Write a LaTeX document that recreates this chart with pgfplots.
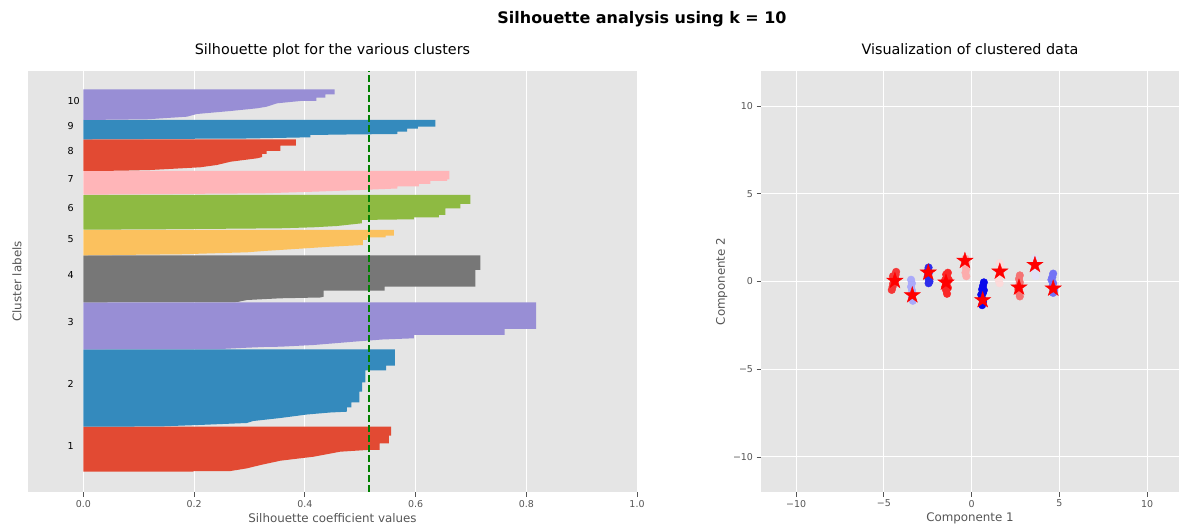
\documentclass[border=0pt]{standalone}
\usepackage{fontspec}
\setmainfont{DejaVu Sans}
\usepackage{pgfplots}
\pgfplotsset{compat=1.18}
\definecolor{ggred}{HTML}{E24A33}
\definecolor{ggblue}{HTML}{348ABD}
\definecolor{ggpurple}{HTML}{988ED5}
\definecolor{gggrey}{HTML}{777777}
\definecolor{ggyellow}{HTML}{FBC15E}
\definecolor{gggreen}{HTML}{8EBA42}
\definecolor{ggpink}{HTML}{FFB5B8}
\definecolor{axbg}{HTML}{E5E5E5}
\definecolor{tickgrey}{HTML}{555555}
\definecolor{mplgreen}{HTML}{008000}
\definecolor{cA}{RGB}{245,55,55}
\definecolor{cB}{RGB}{170,170,250}
\definecolor{cC}{RGB}{45,45,235}
\definecolor{cD}{RGB}{250,40,40}
\definecolor{cE}{RGB}{252,172,172}
\definecolor{cF}{RGB}{10,10,235}
\definecolor{cG}{RGB}{252,218,218}
\definecolor{cH}{RGB}{245,115,115}
\definecolor{cI}{RGB}{225,225,246}
\definecolor{cJ}{RGB}{115,115,245}
\pgfdeclareplotmark{fstar}{%
 \pgfpathmoveto{\pgfpointpolar{90}{\pgfplotmarksize}}%
 \pgfpathlineto{\pgfpointpolar{126}{0.382\pgfplotmarksize}}%
 \pgfpathlineto{\pgfpointpolar{162}{\pgfplotmarksize}}%
 \pgfpathlineto{\pgfpointpolar{198}{0.382\pgfplotmarksize}}%
 \pgfpathlineto{\pgfpointpolar{234}{\pgfplotmarksize}}%
 \pgfpathlineto{\pgfpointpolar{270}{0.382\pgfplotmarksize}}%
 \pgfpathlineto{\pgfpointpolar{306}{\pgfplotmarksize}}%
 \pgfpathlineto{\pgfpointpolar{342}{0.382\pgfplotmarksize}}%
 \pgfpathlineto{\pgfpointpolar{18}{\pgfplotmarksize}}%
 \pgfpathlineto{\pgfpointpolar{54}{0.382\pgfplotmarksize}}%
 \pgfpathclose
 \pgfusepathqfillstroke
}
\pgfplotsset{
  ggstyle/.style={
    scale only axis,
    axis background/.style={fill=axbg},
    axis line style={draw=none},
    tick style={color=tickgrey, line width=0.8bp},
    major tick length=4.5bp,
    tick align=outside,
    xtick pos=lower, ytick pos=left,
    grid=major,
    major grid style={white, line width=1bp},
    ticklabel style={font=\fontsize{9.5}{10}\selectfont, color=tickgrey},
    label style={font=\fontsize{11.9}{13}\selectfont, color=tickgrey},
    title style={font=\fontsize{14.4}{16}\selectfont, at={(axis description cs:0.5,1.024)}, anchor=base},
  },
  pts/.style={only marks, mark=*, mark size=3.8bp, color=#1},
}
\begin{document}
\begin{tikzpicture}
\useasboundingbox (0bp,0bp) rectangle (1179bp,527bp);
\node[font=\bfseries\fontsize{16}{18}\selectfont, anchor=base] at (642bp,503bp) {Silhouette analysis using k = 10};
% ---------------- left: silhouette plot
\begin{axis}[ggstyle,
  at={(28bp,35bp)}, anchor=south west,
  width=609bp, height=421bp,
  xmin=-0.1, xmax=1.0, ymin=0, ymax=421,
  xtick={0,0.2,0.4,0.6,0.8,1.0},
  xticklabels={0.0,0.2,0.4,0.6,0.8,1.0},
  ytick=\empty,
  title={Silhouette plot for the various clusters},
  xlabel={Silhouette coefficient values},
  ylabel={Cluster labels},
  xlabel style={at={(axis description cs:0.5,-0.062)}, anchor=center},
  ylabel style={at={(axis description cs:-0.018,0.5)}, anchor=center},
]
% cluster 1
\addplot[fill=ggred, draw=none] coordinates {(0,20.3) (0.196,20.3) (0.2,20.8) (0.266,21) (0.296,23.7) (0.32,27) (0.356,31.3) (0.416,35.3) (0.464,40.3) (0.512,42) (0.535,42) (0.535,48.7) (0.552,48.7) (0.552,56.3) (0.556,56.3) (0.556,65.3) (0,65.3)};
% cluster 2
\addplot[fill=ggblue, draw=none] coordinates {(0,65.3) (0.139,65.6) (0.208,67) (0.295,69) (0.307,71) (0.356,74) (0.404,77.5) (0.446,79.5) (0.476,80.3) (0.476,84.7) (0.484,84.7) (0.484,89.7) (0.4986,89.7) (0.4986,100.3) (0.5035,100.3) (0.5035,109.7) (0.5095,109.7) (0.5095,121.7) (0.547,121.7) (0.547,126.3) (0.5625,126.3) (0.5625,142.7) (0,142.7)};
% cluster 3
\addplot[fill=ggpurple, draw=none] coordinates {(0,142.7) (0.248,143) (0.296,144.3) (0.326,145) (0.356,145.3) (0.416,147) (0.488,150.3) (0.54,152.5) (0.597,153.7) (0.597,157) (0.761,157) (0.761,163) (0.818,163) (0.818,189.7) (0,189.7)};
% cluster 4
\addplot[fill=gggrey, draw=none] coordinates {(0,189.7) (0.278,190) (0.296,192) (0.356,193.7) (0.428,194.5) (0.434,195.3) (0.434,201.3) (0.544,201.3) (0.544,205.3) (0.708,205.3) (0.708,222) (0.717,222) (0.717,236.7) (0,236.7)};
% cluster 5
\addplot[fill=ggyellow, draw=none] coordinates {(0,236.7) (0.139,237.5) (0.175,237.7) (0.235,238.7) (0.296,239.7) (0.326,241) (0.374,242.7) (0.446,245.3) (0.505,247) (0.505,252) (0.5125,252) (0.5125,254.7) (0.546,254.7) (0.546,256.3) (0.561,256.3) (0.561,262) (0,262)};
% cluster 6
\addplot[fill=gggreen, draw=none] coordinates {(0,262.3) (0.139,262.7) (0.356,263.7) (0.416,264.7) (0.458,266) (0.503,268.7) (0.503,272) (0.537,272.3) (0.597,272.7) (0.597,274.7) (0.642,274.7) (0.642,277) (0.654,277) (0.654,283.7) (0.681,283.7) (0.681,288) (0.699,288) (0.699,297) (0,297)};
% cluster 7
\addplot[fill=ggpink, draw=none] coordinates {(0,297.3) (0.326,298.7) (0.416,300.3) (0.5,302) (0.567,303.5) (0.567,305.5) (0.606,305.5) (0.606,308) (0.627,308) (0.627,311) (0.657,311) (0.657,312.5) (0.661,312.5) (0.661,321) (0,321)};
% cluster 8
\addplot[fill=ggred, draw=none] coordinates {(0,321) (0.067,321.3) (0.121,322) (0.211,324.7) (0.241,327) (0.266,330.3) (0.314,333.7) (0.323,335) (0.323,338) (0.331,338) (0.331,341) (0.356,341) (0.356,346.3) (0.384,346.3) (0.384,352.7) (0,352.7)};
% cluster 9
\addplot[fill=ggblue, draw=none] coordinates {(0,352.7) (0.296,353.5) (0.41,354.7) (0.41,357) (0.476,357.5) (0.567,358) (0.567,360.3) (0.585,360.3) (0.585,363.3) (0.604,363.3) (0.604,365.3) (0.636,365.3) (0.636,372) (0,372)};
% cluster 10
\addplot[fill=ggpurple, draw=none] coordinates {(0,372) (0.115,372.7) (0.187,375.3) (0.205,378) (0.266,381) (0.314,383.7) (0.331,385.3) (0.35,388.7) (0.392,391) (0.421,391) (0.421,394.3) (0.437,394.3) (0.437,397.7) (0.454,397.7) (0.454,402.7) (0,402.7)};
% average silhouette
\addplot[mplgreen, line width=2bp, dash pattern=on 7bp off 3bp] coordinates {(0.5155,0) (0.5155,421)};
\foreach \lab/\yy in {1/42.7,2/104,3/166.3,4/213.5,5/249.9,6/280,7/309.5,8/337,9/362.9,10/387.3}{
  \edef\tmp{\noexpand\node[anchor=base west, font=\noexpand\fontsize{9.6}{10}\noexpand\selectfont, inner sep=0pt] at (axis cs:-0.029,\yy) {\lab};}
  \tmp
}
\end{axis}
% ---------------- right: scatter
\begin{axis}[ggstyle,
  at={(761bp,35bp)}, anchor=south west,
  width=418bp, height=421bp,
  xmin=-12, xmax=11.82, ymin=-12, ymax=12,
  xtick={-10,-5,0,5,10}, ytick={-10,-5,0,5,10},
  xticklabels={−10,−5,0,5,10}, yticklabels={−10,−5,0,5,10},
  title={Visualization of clustered data},
  xlabel={Componente 1},
  ylabel={Componente 2},
  xlabel style={at={(axis description cs:0.5,-0.062)}, anchor=center},
  ylabel style={at={(axis description cs:-0.094,0.5)}, anchor=center},
]
\addplot[pts=cA] coordinates {(-4.3,0.55) (-4.33,0.38) (-4.38,0.22) (-4.42,0.05) (-4.47,-0.12) (-4.5,-0.3) (-4.55,-0.48) (-4.35,0.1) (-4.48,0.3)};
\addplot[pts=cB] coordinates {(-3.45,0.1) (-3.4,-0.1) (-3.45,-0.3) (-3.4,-0.5) (-3.35,-0.7) (-3.4,-0.9) (-3.35,-1.1)};
\addplot[pts=cC] coordinates {(-2.45,0.8) (-2.5,0.6) (-2.45,0.45) (-2.5,0.3) (-2.45,0.15) (-2.4,0.0) (-2.45,-0.1)};
\addplot[pts=cD] coordinates {(-1.35,0.5) (-1.45,0.4) (-1.4,0.25) (-1.5,0.1) (-1.4,-0.05) (-1.45,-0.2) (-1.35,-0.35) (-1.45,-0.5) (-1.4,-0.7) (-1.5,-0.3) (-1.3,0.1)};
\addplot[pts=cE] coordinates {(-0.35,1.3) (-0.3,1.1) (-0.35,0.9) (-0.3,0.7) (-0.35,0.5) (-0.3,0.3)};
\addplot[pts=cF] coordinates {(0.7,-0.05) (0.65,-0.25) (0.6,-0.45) (0.65,-0.65) (0.55,-0.75) (0.6,-0.95) (0.65,-1.15) (0.6,-1.35) (0.7,-0.5)};
\addplot[pts=cG] coordinates {(1.6,1.05) (1.65,0.8) (1.6,0.55) (1.6,0.3) (1.55,0.05) (1.6,-0.1)};
\addplot[pts=cH] coordinates {(2.75,0.35) (2.7,0.15) (2.75,-0.05) (2.7,-0.25) (2.65,-0.45) (2.7,-0.65) (2.75,-0.85)};
\addplot[pts=cI] coordinates {(3.6,1.3) (3.65,1.05) (3.6,0.8) (3.6,0.55) (3.65,0.3)};
\addplot[pts=cJ] coordinates {(4.65,0.45) (4.6,0.25) (4.55,0.1) (4.65,-0.1) (4.6,-0.3) (4.7,-0.5) (4.65,-0.65)};
\addplot[only marks, color=red, mark=fstar, mark size=8.5bp] coordinates {(-4.37,0.04) (-3.38,-0.78) (-2.47,0.51) (-1.46,-0.06) (-0.38,1.18) (0.63,-1.06) (1.61,0.57) (2.70,-0.34) (3.61,0.95) (4.65,-0.40)};
\end{axis}
\end{tikzpicture}
\end{document}
